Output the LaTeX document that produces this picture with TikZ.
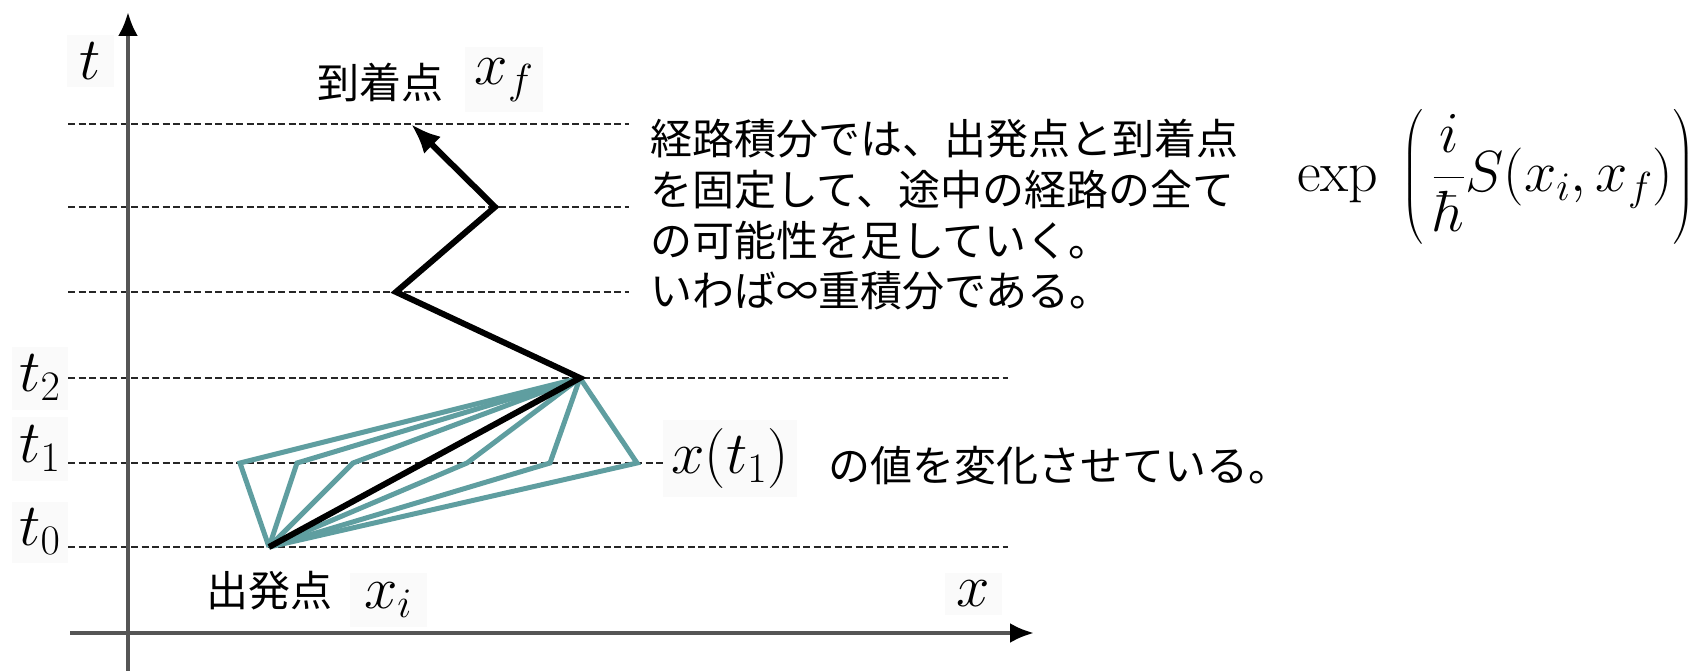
\RequirePackage{fix-cm}
\documentclass[tikz,border=0pt]{standalone}
\usepackage{amsmath}
\usepackage{fontspec}
\newfontfamily\jp{Noto Sans CJK JP}
\usetikzlibrary{arrows.meta}
\definecolor{pathteal}{RGB}{95,158,160}
\definecolor{axisgray}{RGB}{85,85,85}
\definecolor{labelbg}{RGB}{250,250,250}
\begin{document}
\begin{tikzpicture}[x=1pt,y=-1pt,
  axisline/.style={line width=4pt, draw=axisgray, -{Latex[length=24pt,width=20pt,fill=black,color=black]}},
  gridline/.style={line width=2pt, draw=black!85, dash pattern=on 7pt off 3.5pt},
  tealpath/.style={line width=5pt, draw=pathteal},
  mainpath/.style={line width=6pt, draw=black},
  mlab/.style={fill=labelbg, inner sep=0pt, font=\fontsize{60}{72}\selectfont},
  jlab/.style={font=\jp\fontsize{42}{50.7}\selectfont, inner sep=0pt}
]
\useasboundingbox (0,0) rectangle (1700,671);

% grid coordinates
\coordinate (gA1) at (68,124);  \coordinate (gA2) at (629,124);
\coordinate (gB1) at (68,207);  \coordinate (gB2) at (629,207);
\coordinate (gC1) at (68,292);  \coordinate (gC2) at (629,292);
\coordinate (gD1) at (68,378);  \coordinate (gD2) at (1008,378);
\coordinate (gE1) at (68,463);  \coordinate (gE2) at (663,463);
\coordinate (gF1) at (68,547);  \coordinate (gF2) at (1008,547);
\draw[gridline] (gA1) -- (gA2);
\draw[gridline] (gB1) -- (gB2);
\draw[gridline] (gC1) -- (gC2);
\draw[gridline] (gD1) -- (gD2);
\draw[gridline] (gE1) -- (gE2);
\draw[gridline] (gF1) -- (gF2);

% axes
\coordinate (vaxB) at (128,671); \coordinate (vaxT) at (128,12);
\coordinate (haxL) at (70,633);  \coordinate (haxR) at (1034,633);
\draw[axisline] (vaxB) -- (vaxT);
\draw[axisline] (haxL) -- (haxR);

% path points
\coordinate (P0) at (269,547);
\coordinate (P2) at (580,378);
\coordinate (P3) at (396,292);
\coordinate (P4) at (495,207);
\coordinate (P5) at (411,124);
\coordinate (Q1) at (240,463);
\coordinate (Q2) at (297,463);
\coordinate (Q3) at (353,463);
\coordinate (Q4) at (467,463);
\coordinate (Q5) at (550,463);
\coordinate (Q6) at (637,463);

\draw[tealpath] (P0) -- (Q1) -- (P2);
\draw[tealpath] (P0) -- (Q2) -- (P2);
\draw[tealpath] (P0) -- (Q3) -- (P2);
\draw[tealpath] (P0) -- (Q4) -- (P2);
\draw[tealpath] (P0) -- (Q5) -- (P2);
\draw[tealpath] (P0) -- (Q6) -- (P2);

\draw[mainpath, -{Latex[length=30pt,width=24pt]}] (P0) -- (P2) -- (P3) -- (P4) -- (P5);

% math labels
\node[mlab, minimum width=47pt, minimum height=52pt] (tlab) at (90,61) {$t$\hspace{10pt}};
\node[mlab, minimum width=56pt, minimum height=63pt] (t2lab) at (40,378) {$t_2$};
\node[mlab, minimum width=56pt, minimum height=64pt] (t1lab) at (40,449) {$t_1$};
\node[mlab, minimum width=56pt, minimum height=61pt] (t0lab) at (40,532) {$t_0$};
\node[mlab, minimum width=78pt, minimum height=65pt] (xflab) at (504,80) {$x_f$};
\node[mlab, minimum width=77pt, minimum height=54pt] (xilab) at (388,600) {$x_i$};
\node[mlab, minimum width=57pt, minimum height=42pt] (xlab) at (973,594) {$x$};
\node[mlab, minimum width=134pt, minimum height=77pt] (xt1lab) at (730,458) {$x(t_1)$};

% japanese labels
\node[jlab] (arrive) at (380,82) {到着点};
\node[jlab] (depart) at (269,591) {出発点};
\node[jlab, align=left, anchor=west] (desc) at (650,215)
  {経路積分では、出発点と到着点\\を固定して、途中の経路の全て\\の可能性を足していく。\\いわば∞重積分である。};
\node[jlab, anchor=west] (vary) at (828,466) {の値を変化させている。};

% formula
\node[font=\fontsize{58}{70}\selectfont, anchor=west, inner sep=0pt] (formula) at (1297,177)
  {$\displaystyle\exp\:\left(\,\frac{i}{\hbar}S(x_i,x_f)\vphantom{\Big(}\right)$};
\end{tikzpicture}
\end{document}
